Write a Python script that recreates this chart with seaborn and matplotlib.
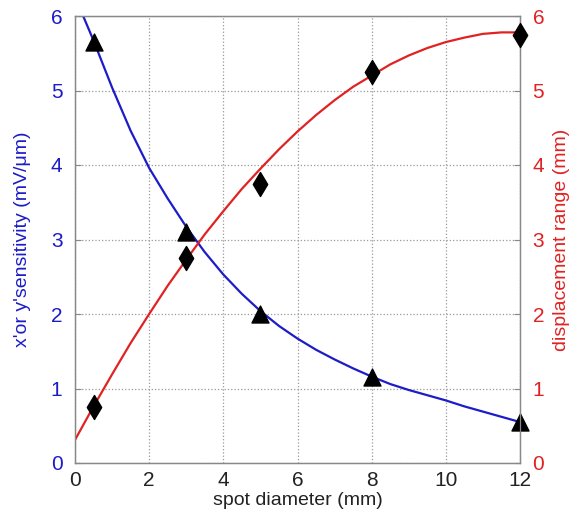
import numpy as np
import pandas as pd
import seaborn as sns
import matplotlib
matplotlib.use('Agg')
import matplotlib.pyplot as plt

# measured points
spot = [0.5, 3, 5, 8, 12]
sensitivity = [5.65, 3.1, 2.0, 1.15, 0.55]
disp_range = [0.75, 2.75, 3.75, 5.25, 5.75]

# fitted curves
fit_sens_x = [0.22, 0.5, 1, 1.5, 2, 2.5, 3, 3.5, 4, 4.5, 5, 5.5, 6, 6.5, 7, 7.5, 8,
              8.5, 9, 9.5, 10, 10.5, 11, 11.5, 12]
fit_sens_y = [6.0, 5.67, 5.04, 4.46, 3.96, 3.55, 3.17, 2.83, 2.53, 2.27, 2.04, 1.84,
              1.67, 1.52, 1.39, 1.27, 1.16, 1.06, 0.98, 0.91, 0.84, 0.76, 0.69, 0.62, 0.55]
fit_disp_x = [0, 0.5, 1, 1.5, 2, 2.5, 3, 3.5, 4, 4.5, 5, 5.5, 6, 6.5, 7, 7.5, 8,
              8.5, 9, 9.5, 10, 10.5, 11, 11.5, 12]
fit_disp_y = [0.31, 0.76, 1.19, 1.61, 2.0, 2.38, 2.73, 3.07, 3.38, 3.68, 3.95, 4.21,
              4.45, 4.67, 4.87, 5.05, 5.2, 5.35, 5.47, 5.57, 5.65, 5.71, 5.76, 5.78, 5.78]

blue = '#1c1cc8'
red = '#e02222'

sns.set_style('white')
plt.rcParams['font.family'] = ['Liberation Sans', 'DejaVu Sans']

fig = plt.figure(figsize=(5.7, 5.15), dpi=100)
ax1 = fig.add_axes([75/570, 1-463/515, 445/570, 447/515])

sns.lineplot(x=fit_sens_x, y=fit_sens_y, ax=ax1, color=blue, linewidth=1.6, sort=False)
sns.scatterplot(x=spot, y=sensitivity, ax=ax1, marker='^', s=150, color='black',
                edgecolor='black', zorder=5, clip_on=False)

ax1.set_xlim(0, 12)
ax1.set_ylim(0, 6)
ax1.set_xticks(range(0, 13, 2))
ax1.set_yticks(range(0, 7))
ax1.grid(True, linestyle=':', color='#999999', linewidth=0.9)
ax1.tick_params(axis='x', labelsize=15, colors='#222222', direction='in', length=4, pad=6)
ax1.tick_params(axis='y', labelsize=15, labelcolor=blue, color='#888888', direction='in',
                length=4, pad=9)
ax1.set_xlabel('spot diameter (mm)', fontsize=14, color='#222222', labelpad=1)
ax1.set_ylabel("x'or y'sensitivity (mV/\u03bcm)", fontsize=14, color=blue, labelpad=14)

ax2 = ax1.twinx()
sns.lineplot(x=fit_disp_x, y=fit_disp_y, ax=ax2, color=red, linewidth=1.6, sort=False)
sns.scatterplot(x=spot, y=disp_range, ax=ax2, marker='d', s=150, color='black',
                edgecolor='black', zorder=5, clip_on=False)
ax2.set_ylim(0, 6)
ax2.set_yticks(range(0, 7))
ax2.tick_params(axis='y', labelsize=15, labelcolor=red, color='#888888', direction='in',
                length=4, pad=9)
ax2.set_ylabel('displacement range (mm)', fontsize=14, color=red, labelpad=6)

for a in (ax1, ax2):
    for s in a.spines.values():
        s.set_color('#888888')
        s.set_linewidth(0.9)

plt.savefig('out.png', dpi=100)
